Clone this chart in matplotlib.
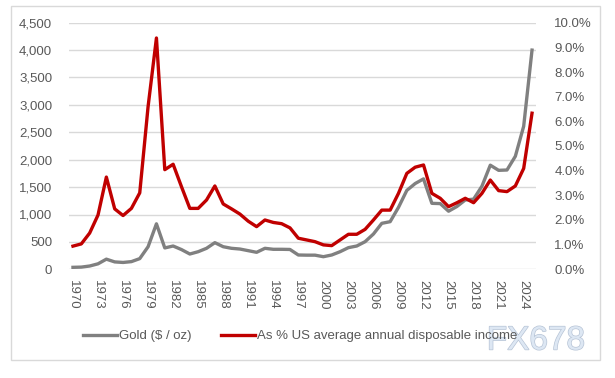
import matplotlib
matplotlib.use("Agg")
import matplotlib.pyplot as plt
from matplotlib.ticker import FuncFormatter, MultipleLocator
import matplotlib.patheffects as pe

years = list(range(1970, 2026))
gold = [36, 40, 60, 100, 185, 135, 125, 140, 195, 412,
        830, 390, 425, 360, 279, 321, 383, 486, 412, 383,
        370, 340, 310, 383, 365, 365, 362, 261, 258, 258,
        230, 261, 321, 395, 425, 504, 644, 839, 869, 1130,
        1440, 1565, 1650, 1204, 1199, 1060, 1146, 1265, 1280, 1517,
        1900, 1806, 1812, 2062, 2610, 4000]
pct_income = [0.94, 1.03, 1.47, 2.20, 3.74, 2.45, 2.18, 2.47, 3.10, 6.60,
              9.38, 4.04, 4.26, 3.35, 2.47, 2.47, 2.81, 3.38, 2.65, 2.45,
              2.24, 1.95, 1.73, 2.00, 1.90, 1.85, 1.68, 1.26, 1.19, 1.12,
              0.99, 0.96, 1.19, 1.42, 1.42, 1.62, 2.00, 2.40, 2.40, 3.08,
              3.89, 4.14, 4.23, 3.08, 2.88, 2.54, 2.70, 2.88, 2.70, 3.08,
              3.62, 3.19, 3.15, 3.38, 4.09, 6.33]
series_labels = ["Gold ($ / oz)", "As % US average annual disposable income"]
tick_years = list(range(1970, 2025, 3))

txt = "#595959"
W, H = 615, 378
fig = plt.figure(figsize=(W / 100, H / 100), dpi=100)
plt.rcParams['font.family'] = ['Liberation Sans', 'DejaVu Sans']

# outer border
fig.patches.append(plt.Rectangle((10.5 / W, 1 - 359.5 / H), 589.5 / W, 354 / H,
                                 transform=fig.transFigure, fill=False,
                                 edgecolor="#d9d9d9", linewidth=1.0))

ax = fig.add_axes([68.8 / W, 1 - 269.3 / H, 467.4 / W, 246.6 / H])
x = list(range(len(years)))
l1, = ax.plot(x, gold, color="#808080", lw=2.4, solid_joinstyle="round",
              label=series_labels[0], zorder=3)
ax.set_xlim(-0.5, len(years) - 0.5)
ax.set_ylim(0, 4500)
ax.yaxis.set_major_locator(MultipleLocator(500))
ax.yaxis.set_major_formatter(FuncFormatter(lambda v, p: f"{int(v):,}"))
ax.grid(axis="y", color="#d9d9d9", lw=1.0)
ax.set_axisbelow(True)
for s in ax.spines.values():
    s.set_visible(False)
ax.set_xticks([years.index(y) for y in tick_years])
ax.set_xticklabels([str(y) for y in tick_years], rotation=-90, fontsize=9.5, color=txt)
ax.tick_params(axis="x", length=0, pad=8)
ax.tick_params(axis="y", length=0, pad=12, labelsize=9.5, labelcolor=txt)

ax2 = ax.twinx()
l2, = ax2.plot(x, pct_income, color="#c00000", lw=2.4, solid_joinstyle="round",
               label=series_labels[1], zorder=4)
ax2.set_ylim(0, 10)
ax2.yaxis.set_major_locator(MultipleLocator(1))
ax2.yaxis.set_major_formatter(FuncFormatter(lambda v, p: f"{v:.1f}%"))
for s in ax2.spines.values():
    s.set_visible(False)
ax2.tick_params(axis="y", length=0, pad=13, labelsize=9.5, labelcolor=txt)

leg = fig.legend(handles=[l1, l2], loc="center", bbox_to_anchor=(300 / W, 1 - 336 / H),
                 ncol=2, frameon=False, fontsize=9.5, handlelength=2.6,
                 handletextpad=0.15, columnspacing=2.2)
for t in leg.get_texts():
    t.set_color(txt)

fig.text(536 / W, 1 - 341 / H, "FX678", fontsize=24, color="#dde7f3",
         ha="center", va="center",
         path_effects=[pe.withStroke(linewidth=1.0, foreground="#b7c4d6")])

fig.savefig("out.png", dpi=100)
